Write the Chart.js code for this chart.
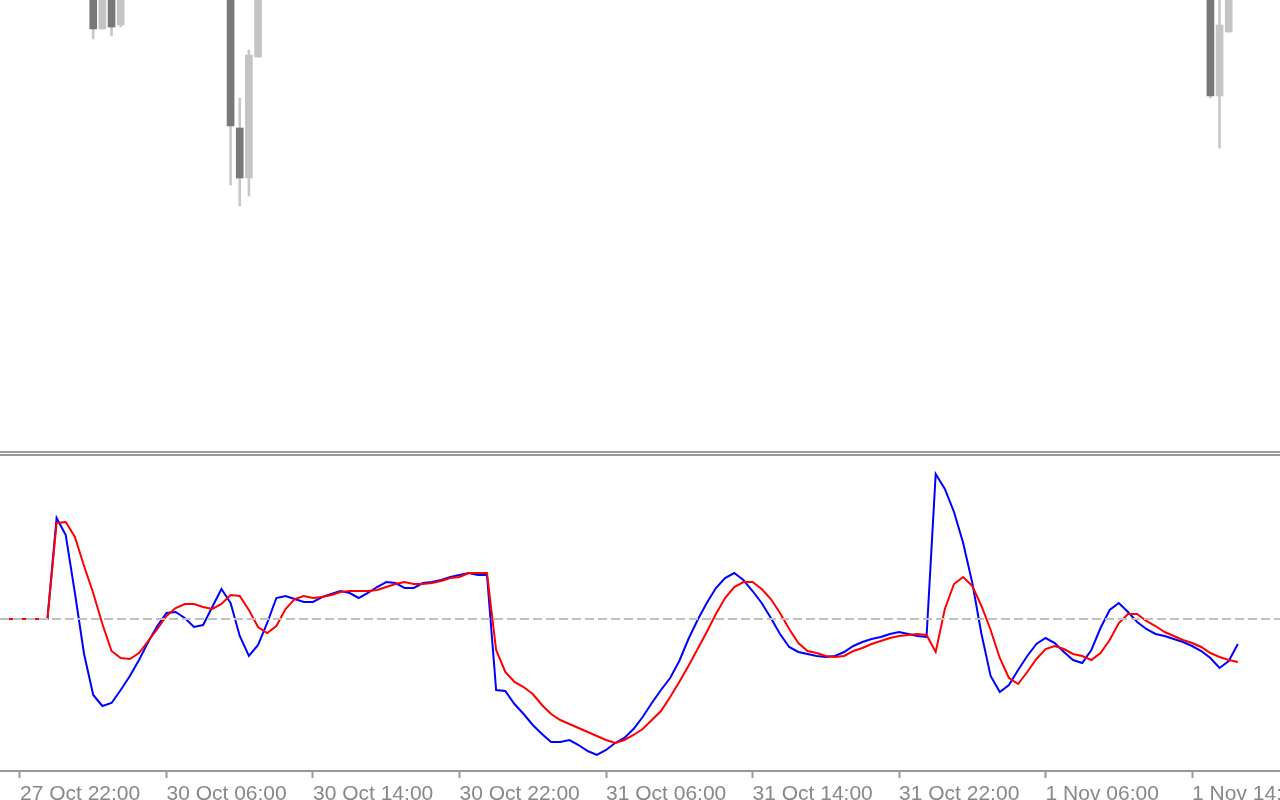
<!DOCTYPE html>
<html>
<head>
<meta charset="utf-8">
<script src="https://cdn.jsdelivr.net/npm/chart.js@4.4.0/dist/chart.umd.min.js"></script>
<style>
  html, body { margin: 0; padding: 0; background: #fff; overflow: hidden; width: 1280px; height: 800px; }
  canvas { position: absolute; left: 0; }
  #price { top: 0; }
  #osc { top: 456px; }
  .sep { position: absolute; left: 0; width: 1280px; height: 2px; background: #9a9a9e; }
</style>
</head>
<body>
<canvas id="price" width="1280" height="451"></canvas>
<div class="sep" style="top:451px"></div>
<div class="sep" style="top:454px"></div>
<canvas id="osc" width="1280" height="360"></canvas>
<script>
// M30 bars, index 0 = 27 Oct 22:00
const firstBar = -3;

const blueLine = [
  0, 0, 0, 0, 0, 0, 0,
  10.1, 8.4, 2.6, -3.5, -7.6, -8.7, -8.4, -7.1, -5.7, -4.1, -2.3, -0.7, 0.6, 0.7, 0.1, -0.8,
  -0.6, 1.2, 3.0, 1.6, -1.7, -3.7, -2.6, -0.4, 2.1, 2.3, 2.0, 1.7, 1.7, 2.2, 2.5, 2.8,
  2.6, 2.1, 2.6, 3.2, 3.7, 3.6, 3.1, 3.1, 3.6, 3.7, 3.9, 4.2, 4.4, 4.6, 4.4, 4.4,
  -7.1, -7.2, -8.5, -9.5, -10.6, -11.5, -12.3, -12.3, -12.1, -12.6, -13.2, -13.6, -13.1, -12.4, -11.9, -11.0,
  -9.8, -8.4, -7.1, -5.9, -4.2, -2.0, -0.1, 1.6, 3.1, 4.1, 4.6, 3.9, 2.8, 1.6, 0.1, -1.5,
  -2.8, -3.3, -3.5, -3.7, -3.8, -3.7, -3.3, -2.7, -2.3, -2.0, -1.8, -1.5, -1.3, -1.5, -1.7, -1.8,
  14.5, 13.0, 10.7, 7.6, 3.6, -1.5, -5.7, -7.3, -6.6, -5.1, -3.7, -2.5, -1.9, -2.4, -3.3, -4.1,
  -4.4, -3.1, -0.9, 0.9, 1.6, 0.7, -0.3, -1.0, -1.5, -1.7, -2.0, -2.3, -2.7, -3.2, -3.9, -4.9,
  -4.2, -2.5
];

const redLine = [
  0, 0, 0, 0, 0, 0, 0,
  9.6, 9.7, 8.2, 5.3, 2.6, -0.5, -3.2, -3.9, -4.0, -3.4, -2.2, -1.0, 0.3, 1.1, 1.5, 1.5,
  1.2, 1.0, 1.5, 2.4, 2.3, 0.9, -0.8, -1.4, -0.7, 1.0, 2.0, 2.3, 2.1, 2.2, 2.4, 2.7,
  2.8, 2.8, 2.8, 2.9, 3.2, 3.5, 3.7, 3.5, 3.5, 3.6, 3.8, 4.1, 4.2, 4.6, 4.6, 4.6,
  -3.1, -5.3, -6.3, -6.8, -7.5, -8.6, -9.5, -10.1, -10.5, -10.9, -11.3, -11.7, -12.1, -12.4, -12.1, -11.6,
  -11.0, -10.1, -9.2, -7.8, -6.3, -4.7, -3.0, -1.3, 0.5, 2.1, 3.2, 3.7, 3.7, 3.0, 2.0, 0.6,
  -1.0, -2.4, -3.2, -3.4, -3.7, -3.8, -3.7, -3.2, -2.9, -2.5, -2.2, -1.9, -1.7, -1.6, -1.5, -1.6,
  -3.3, 1.0, 3.5, 4.2, 3.3, 1.3, -1.1, -3.9, -5.9, -6.5, -5.3, -4.0, -3.0, -2.7, -3.0, -3.5,
  -3.7, -4.1, -3.4, -2.1, -0.4, 0.5, 0.5, -0.2, -0.7, -1.3, -1.7, -2.1, -2.4, -2.8, -3.4, -3.8,
  -4.1, -4.3
];

const zeroLevel = 0;

const tickBars = [0, 16, 32, 48, 64, 80, 96, 112, 128];
const tickLabels = ['27 Oct 22:00', '30 Oct 06:00', '30 Oct 14:00', '30 Oct 22:00', '31 Oct 06:00',
  '31 Oct 14:00', '31 Oct 22:00', '1 Nov 06:00', '1 Nov 14:00'];

// only the candles whose lower part shows in the window
const candleBar   = [8, 9, 10, 11, 23, 24, 25, 26, 130, 131, 132];
const candleOpen  = [1.06060, 1.05971, 1.06040, 1.05975, 1.06030, 1.05872, 1.05822, 1.05943, 1.06040, 1.05904, 1.05968];
const candleHigh  = [1.06080, 1.06045, 1.06050, 1.06035, 1.06045, 1.05902, 1.05950, 1.06030, 1.06050, 1.06010, 1.06040];
const candleLow   = [1.05961, 1.05971, 1.05964, 1.05973, 1.05815, 1.05794, 1.05804, 1.05943, 1.05902, 1.05852, 1.05968];
const candleClose = [1.05971, 1.06030, 1.05973, 1.06020, 1.05874, 1.05822, 1.05945, 1.06020, 1.05904, 1.05975, 1.06030];

const viewFrom = -2.18;
const viewTo = 137.6;
const priceMin = 1.05549, priceMax = 1.06000;
const oscMin = -15.2, oscMax = 16.3;

const bodies = candleBar.map((b, k) => ({ x: b, y: [candleOpen[k], candleClose[k]] }));
const wicks = candleBar.map((b, k) => ({ x: b, y: [candleLow[k], candleHigh[k]] }));
const bodyColors = candleBar.map((b, k) => candleClose[k] < candleOpen[k] ? '#787878' : '#c4c4c4');

new Chart(document.getElementById('price'), {
  type: 'bar',
  data: {
    datasets: [
      { data: bodies, backgroundColor: bodyColors, barThickness: 7, grouped: false, order: 0 },
      { data: wicks, backgroundColor: '#c8c8c8', barThickness: 2, grouped: false, order: 1 }
    ]
  },
  options: {
    responsive: false,
    animation: false,
    events: [],
    layout: { padding: 0 },
    plugins: { legend: { display: false }, tooltip: { enabled: false } },
    scales: {
      x: { type: 'linear', display: false, offset: false, grid: { offset: false }, min: viewFrom, max: viewTo },
      y: { display: false, min: priceMin, max: priceMax }
    }
  }
});

const toPoints = arr => arr.map((v, k) => ({ x: firstBar + k, y: v }));

new Chart(document.getElementById('osc'), {
  type: 'line',
  data: {
    datasets: [
      {
        data: [{ x: viewFrom, y: zeroLevel }, { x: viewTo, y: zeroLevel }],
        borderColor: '#c0c0c0', borderWidth: 2, borderDash: [9, 4], pointRadius: 0, order: 0
      },
      { data: toPoints(redLine), borderColor: '#ff0000', borderWidth: 2, pointRadius: 0, tension: 0, order: 1 },
      { data: toPoints(blueLine), borderColor: '#0000ff', borderWidth: 2, pointRadius: 0, tension: 0, order: 2 }
    ]
  },
  options: {
    responsive: false,
    animation: false,
    events: [],
    layout: { padding: 0 },
    plugins: { legend: { display: false }, tooltip: { enabled: false } },
    scales: {
      x: {
        type: 'linear',
        min: viewFrom,
        max: viewTo,
        afterBuildTicks: function (scale) {
          scale.ticks = tickBars.map(v => ({ value: v }));
        },
        afterFit: function (scale) {
          scale.height = 45;
          scale.paddingLeft = 0;
          scale.paddingRight = 0;
        },
        grid: { drawOnChartArea: false, drawTicks: true, tickLength: 7, tickColor: '#999', tickWidth: 2 },
        border: { display: true, color: '#999', width: 2 },
        ticks: {
          align: 'start',
          padding: 4,
          color: '#888',
          maxRotation: 0,
          autoSkip: false,
          font: { family: 'Liberation Sans', size: 21 },
          callback: function (value, i) {
            return tickLabels[i];
          }
        }
      },
      y: { display: false, min: oscMin, max: oscMax }
    }
  }
});
</script>
</body>
</html>
